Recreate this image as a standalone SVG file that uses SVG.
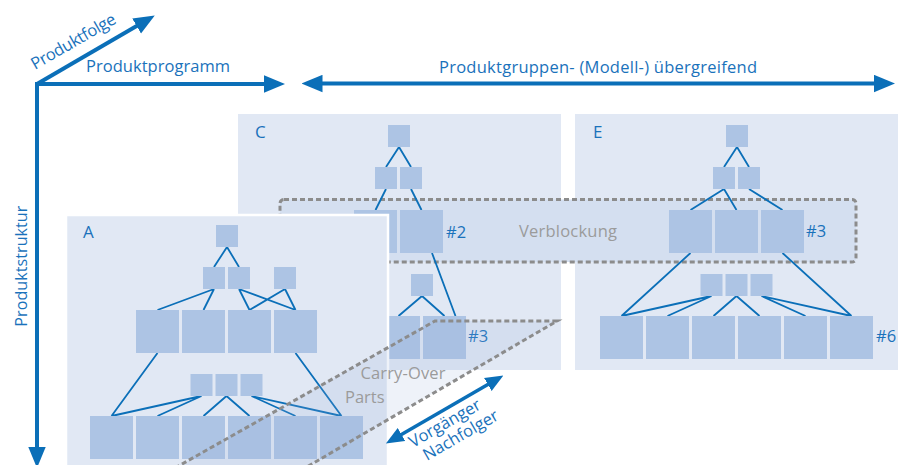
<svg xmlns="http://www.w3.org/2000/svg" width="905" height="465" viewBox="0 0 905 465">
<defs>
<style>
.panel{fill:#e1e8f4}
.box{fill:#adc4e4}
.edge{stroke:#0b6fb8;stroke-width:1.8;fill:none}
.axis{stroke:#0b6fb8;stroke-width:4;fill:none}
.t{font-family:'Open Sans','Liberation Sans',sans-serif;font-size:16.5px;fill:#1a72bb}
.g{fill:#9b9b9b}
.dots{stroke:#8c8c8c;stroke-width:3;stroke-dasharray:5 3;fill:none}
</style>
<marker id="ah" markerUnits="userSpaceOnUse" viewBox="0 -9 21 18" refX="1" refY="0" markerWidth="21" markerHeight="18" orient="auto-start-reverse">
<path d="M0,-8.7 L21,0 L0,8.7 z" fill="#0b6fb8"/>
</marker>
<marker id="ah2" markerUnits="userSpaceOnUse" viewBox="0 -8 18 16" refX="1" refY="0" markerWidth="18" markerHeight="16" orient="auto-start-reverse">
<path d="M0,-7.5 L18,0 L0,7.5 z" fill="#0b6fb8"/>
</marker>
</defs>
<rect width="905" height="465" fill="#ffffff"/>

<!-- axes -->
<g id="axes">
<path class="axis" d="M37,448 V84 H265" marker-start="url(#ah)" marker-end="url(#ah)" stroke-linejoin="miter"/>
<path class="axis" d="M37,84 L137.5,25.6" marker-end="url(#ah)"/>
<path class="axis" d="M321.5,83.5 H875" marker-start="url(#ah)" marker-end="url(#ah)"/>
</g>
<text class="t" transform="translate(35,70) rotate(-30)" textLength="95">Produktfolge</text>
<text class="t" x="86" y="72" textLength="144">Produktprogramm</text>
<text class="t" transform="translate(26.5,326.7) rotate(-90)" textLength="121" style="font-size:16px">Produktstruktur</text>
<text class="t" x="439" y="73" textLength="318">Produktgruppen- (Modell-) übergreifend</text>

<!-- panel backgrounds C and E -->
<rect class="panel" x="238" y="114" width="323" height="256"/>
<rect class="panel" x="575" y="114" width="323" height="256"/>

<!-- Verblockung -->
<g id="verblockung">
<rect x="280" y="199.5" width="576" height="62.5" rx="4" fill="#d4dff0"/>
<rect class="dots" x="280" y="199.5" width="576" height="62.5" rx="4"/>
<text class="t g" x="519" y="237" textLength="98">Verblockung</text>
</g>

<!-- Panel C -->
<g id="panel-C">
<text class="t" x="255" y="138" style="font-size:17px">C</text>
<g id="C-edges">
<path class="edge" d="M399,147 L386,167 M399,147 L411,167 M386,189 L375.5,210 M411,189 L421.5,210 M432,253 L455.5,316 M422,296 L398.5,316 M422,296 L444.5,316"/>
</g>
<g id="C-n0"><rect class="box" x="388" y="125" width="22" height="22"/></g>
<g id="C-n1"><rect class="box" x="375" y="167" width="22" height="22"/></g>
<g id="C-n2"><rect class="box" x="400" y="167" width="22" height="22"/></g>
<g id="C-n3"><rect class="box" x="354" y="210" width="43" height="43"/></g>
<g id="C-n4"><rect class="box" x="400" y="210" width="43" height="43"/></g>
<g id="C-n5"><rect class="box" x="411" y="274" width="22" height="22"/></g>
<g id="C-n6"><rect class="box" x="377" y="316" width="43" height="43"/></g>
<g id="C-n7"><rect class="box" x="423" y="316" width="43" height="43"/></g>
<text class="t" x="446" y="238">#2</text>
<text class="t" x="468" y="342">#3</text>
</g>

<!-- Panel E -->
<g id="panel-E">
<text class="t" x="593" y="138" style="font-size:17px">E</text>
<g id="E-edges">
<path class="edge" d="M737,147 L724,167 M737,147 L749,167 M724,189 L690.5,210 M724,189 L736.5,210 M749,189 L782.5,210 M690.5,253 L621.5,316 M782.5,253 L851.5,316 M711.5,296 L621.5,316 M711.5,296 L667.5,316 M736.5,296 L713.5,316 M736.5,296 L759.5,316 M761.5,296 L805.5,316 M761.5,296 L851.5,316"/>
</g>
<g id="E-n0"><rect class="box" x="726" y="125" width="22" height="22"/></g>
<g id="E-n1"><rect class="box" x="713" y="167" width="22" height="22"/></g>
<g id="E-n2"><rect class="box" x="738" y="167" width="22" height="22"/></g>
<g id="E-n3"><rect class="box" x="669" y="210" width="43" height="43"/></g>
<g id="E-n4"><rect class="box" x="715" y="210" width="43" height="43"/></g>
<g id="E-n5"><rect class="box" x="761" y="210" width="43" height="43"/></g>
<g id="E-n6"><rect class="box" x="700.5" y="274" width="22" height="22"/></g>
<g id="E-n7"><rect class="box" x="725.5" y="274" width="22" height="22"/></g>
<g id="E-n8"><rect class="box" x="750.5" y="274" width="22" height="22"/></g>
<g id="E-n9"><rect class="box" x="600" y="316" width="43" height="43"/></g>
<g id="E-n10"><rect class="box" x="646" y="316" width="43" height="43"/></g>
<g id="E-n11"><rect class="box" x="692" y="316" width="43" height="43"/></g>
<g id="E-n12"><rect class="box" x="738" y="316" width="43" height="43"/></g>
<g id="E-n13"><rect class="box" x="784" y="316" width="43" height="43"/></g>
<g id="E-n14"><rect class="box" x="830" y="316" width="43" height="43"/></g>
<text class="t" x="806" y="237">#3</text>
<text class="t" x="876" y="342">#6</text>
</g>

<!-- Panel A -->
<g id="panel-A">
<rect class="panel" x="66" y="215" width="322" height="260" stroke="#ffffff" stroke-width="2.5"/>
<text class="t" x="83" y="238" style="font-size:17px">A</text>
<g id="A-edges">
<path class="edge" d="M227,247 L214,267 M227,247 L239,267 M214,289 L157.5,310 M214,289 L203.5,310 M239,289 L249.5,310 M239,289 L295.5,310 M285,289 L249.5,310 M285,289 L295.5,310 M157.5,353 L111.5,416 M295.5,353 L341.5,416 M201.5,396 L111.5,416 M201.5,396 L157.5,416 M226.5,396 L203.5,416 M226.5,396 L249.5,416 M251.5,396 L295.5,416 M251.5,396 L341.5,416"/>
</g>
<g id="A-n0"><rect class="box" x="216" y="225" width="22" height="22"/></g>
<g id="A-n1"><rect class="box" x="203" y="267" width="22" height="22"/></g>
<g id="A-n2"><rect class="box" x="228" y="267" width="22" height="22"/></g>
<g id="A-n3"><rect class="box" x="274" y="267" width="22" height="22"/></g>
<g id="A-n4"><rect class="box" x="136" y="310" width="43" height="43"/></g>
<g id="A-n5"><rect class="box" x="182" y="310" width="43" height="43"/></g>
<g id="A-n6"><rect class="box" x="228" y="310" width="43" height="43"/></g>
<g id="A-n7"><rect class="box" x="274" y="310" width="43" height="43"/></g>
<g id="A-n8"><rect class="box" x="190.5" y="374" width="22" height="22"/></g>
<g id="A-n9"><rect class="box" x="215.5" y="374" width="22" height="22"/></g>
<g id="A-n10"><rect class="box" x="240.5" y="374" width="22" height="22"/></g>
<g id="A-n11"><rect class="box" x="90" y="416" width="43" height="43"/></g>
<g id="A-n12"><rect class="box" x="136" y="416" width="43" height="43"/></g>
<g id="A-n13"><rect class="box" x="182" y="416" width="43" height="43"/></g>
<g id="A-n14"><rect class="box" x="228" y="416" width="43" height="43"/></g>
<g id="A-n15"><rect class="box" x="274" y="416" width="43" height="43"/></g>
<g id="A-n16"><rect class="box" x="320" y="416" width="43" height="43"/></g>
</g>

<!-- Carry-Over Parts -->
<g id="carry-over">
<polygon points="435,321 557,321 305,468 175,468" fill="#97aedb" fill-opacity="0.16"/>
<path class="dots" d="M175,468 L435,321 H557 L305,468"/>
<text class="t g" x="360.5" y="379" textLength="85">Carry-Over</text>
<text class="t g" x="345" y="403">Parts</text>
</g>

<!-- Vorgänger / Nachfolger -->
<g id="succession">
<path class="axis" style="stroke-width:3.5" d="M400.6,435 L488.7,384" marker-start="url(#ah2)" marker-end="url(#ah2)"/>
<text class="t" transform="translate(413,448) rotate(-30)">Vorgänger</text>
<text class="t" transform="translate(427,461) rotate(-30)">Nachfolger</text>
</g>
</svg>
